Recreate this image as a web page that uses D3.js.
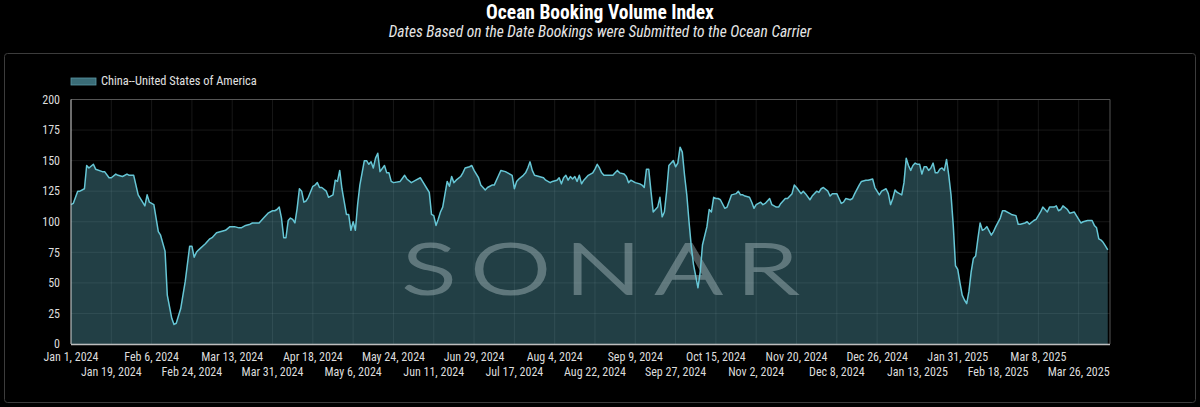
<!DOCTYPE html>
<html>
<head>
<meta charset="utf-8">
<script src="https://cdn.jsdelivr.net/npm/d3@7/dist/d3.min.js"></script>
<style>
  html, body { margin: 0; padding: 0; background: #000; }
  svg { display: block; }
  text { font-family: "Roboto Condensed", "Liberation Sans Narrow", Roboto, sans-serif; }
</style>
</head>
<body>
<div id="chart"></div>
<script>
// series: days after Jan 1, 2024 and index value
const seriesName = "China--United States of America";
const dayOffsets = [
  0, 1, 3, 4, 6, 7, 8, 10, 11, 14, 15, 17, 18, 20, 21, 23, 25, 26, 28, 30,
  33, 34, 35, 37, 38, 39, 40, 42, 43, 45, 46, 47, 49, 51, 53, 54, 55, 56, 57, 60,
  62, 63, 65, 67, 69, 71, 73, 75, 76, 78, 80, 81, 83, 84, 86, 88, 90, 91, 92, 93,
  94, 95, 96, 97, 98, 99, 100, 101, 102, 103, 104, 105, 106, 108, 109, 110, 111, 112, 114, 115,
  116, 117, 118, 119, 120, 121, 123, 124, 125, 126, 127, 128, 129, 131, 132, 133, 134, 135, 136, 137,
  138, 140, 141, 142, 143, 144, 147, 149, 150, 152, 154, 156, 157, 159, 160, 161, 162, 163, 164, 165,
  166, 168, 169, 170, 171, 172, 174, 175, 176, 178, 179, 180, 182, 183, 185, 186, 188, 189, 191, 192,
  194, 195, 197, 198, 199, 200, 202, 203, 204, 205, 206, 207, 209, 211, 212, 214, 215, 217, 218, 219,
  220, 221, 222, 223, 224, 225, 226, 227, 228, 229, 230, 231, 233, 234, 235, 236, 237, 238, 240, 242,
  243, 244, 245, 247, 248, 249, 250, 251, 252, 254, 255, 256, 257, 258, 259, 260, 261, 262, 263, 264,
  265, 266, 267, 268, 269, 270, 271, 272, 273, 274, 275, 276, 277, 278, 280, 281, 282, 284, 285, 286,
  287, 288, 289, 290, 292, 293, 294, 295, 297, 298, 299, 300, 301, 303, 304, 305, 306, 308, 309, 310,
  312, 313, 315, 316, 317, 319, 320, 322, 323, 324, 326, 327, 328, 330, 331, 333, 334, 335, 336, 338,
  339, 340, 342, 343, 344, 345, 346, 348, 349, 350, 352, 353, 355, 356, 358, 359, 361, 362, 364, 365,
  366, 367, 368, 369, 371, 372, 373, 374, 375, 376, 377, 378, 379, 380, 381, 382, 383, 384, 385, 386,
  387, 388, 389, 390, 391, 392, 393, 394, 395, 396, 397, 398, 399, 400, 401, 402, 403, 404, 405, 406,
  407, 408, 409, 411, 412, 413, 415, 416, 417, 419, 420, 422, 423, 424, 426, 427, 428, 430, 431, 433,
  434, 435, 436, 437, 439, 440, 441, 442, 443, 445, 446, 448, 449, 451, 452, 454, 456, 457, 458, 459,
  460, 461, 462, 463
];
const bookingIndex = [
  114, 115, 125, 125, 127, 146, 144, 147, 143, 141, 141, 136, 136, 139, 138, 137, 139, 138, 138, 122,
  113, 122, 116, 114, 103, 92, 89, 76, 40, 21, 16, 17, 29, 51, 80, 80, 71, 75, 77, 82,
  86, 87, 91, 92, 93, 96, 96, 95, 95, 97, 98, 99, 99, 99, 103, 107, 109, 109, 110, 112,
  103, 87, 87, 101, 103, 102, 99, 111, 127, 125, 116, 117, 120, 129, 130, 132, 128, 128, 125, 120,
  121, 122, 134, 133, 142, 127, 106, 106, 93, 100, 93, 114, 130, 150, 150, 147, 149, 144, 152, 156,
  141, 146, 140, 140, 133, 132, 133, 138, 135, 132, 134, 136, 133, 127, 124, 106, 105, 97, 102, 108,
  112, 133, 129, 137, 132, 134, 137, 140, 144, 145, 146, 142, 136, 130, 126, 128, 130, 130, 138, 142,
  141, 140, 138, 127, 133, 135, 138, 140, 144, 149, 142, 138, 137, 136, 134, 132, 133, 134, 136, 131,
  136, 138, 134, 137, 135, 137, 133, 138, 131, 134, 136, 138, 140, 143, 147, 144, 140, 138, 138, 138,
  140, 142, 140, 139, 137, 132, 134, 133, 132, 131, 130, 128, 143, 143, 125, 108, 110, 112, 120, 104,
  108, 125, 146, 148, 150, 145, 148, 161, 157, 138, 122, 100, 80, 65, 46, 59, 81, 96, 110, 108,
  120, 119, 119, 118, 111, 112, 117, 122, 123, 125, 122, 122, 121, 120, 116, 111, 114, 116, 114, 115,
  119, 114, 112, 112, 115, 119, 119, 123, 130, 128, 123, 125, 123, 118, 121, 125, 124, 127, 128, 125,
  121, 123, 123, 119, 115, 116, 119, 118, 119, 123, 130, 133, 134, 134, 135, 128, 122, 125, 127, 123,
  114, 119, 126, 124, 122, 132, 152, 146, 142, 146, 148, 147, 147, 139, 145, 145, 142, 144, 148, 140,
  140, 143, 144, 142, 151, 138, 122, 97, 64, 61, 50, 40, 36, 33, 43, 59, 70, 72, 86, 99,
  93, 94, 96, 89, 92, 96, 103, 109, 109, 107, 106, 105, 98, 98, 99, 100, 98, 101, 102, 108,
  112, 110, 108, 112, 112, 113, 109, 110, 113, 110, 107, 108, 105, 99, 100, 101, 101, 97, 95, 86,
  85, 83, 80, 77
];
const xTickDates = [
  "2024-01-01", "2024-01-19", "2024-02-06", "2024-02-24", "2024-03-13", "2024-03-31",
  "2024-04-18", "2024-05-06", "2024-05-24", "2024-06-11", "2024-06-29", "2024-07-17",
  "2024-08-04", "2024-08-22", "2024-09-09", "2024-09-27", "2024-10-15", "2024-11-02",
  "2024-11-20", "2024-12-08", "2024-12-26", "2025-01-13", "2025-01-31", "2025-02-18",
  "2025-03-08", "2025-03-26"
];
const yTicks = [0, 25, 50, 75, 100, 125, 150, 175, 200];

const W = 1200, H = 407;
const margin = { top: 99.5, right: 90, bottom: 63, left: 71 };

const startDate = new Date(2024, 0, 1);
const parseDay = d3.timeParse("%Y-%m-%d");
const fmt = d3.timeFormat("%b %-d, %Y");

const data = dayOffsets.map((d, i) => ({
  date: d3.timeDay.offset(startDate, d),
  value: bookingIndex[i]
}));

const svg = d3.select("#chart")
  .append("svg")
  .attr("width", W)
  .attr("height", H);

svg.append("rect")
  .attr("width", W)
  .attr("height", H)
  .attr("fill", "#000");

// titles
svg.append("text")
  .attr("x", W / 2)
  .attr("y", 19)
  .attr("text-anchor", "middle")
  .attr("fill", "#fff")
  .attr("font-size", 19.5)
  .attr("font-weight", "bold")
  .text("Ocean Booking Volume Index");

svg.append("text")
  .attr("x", W / 2)
  .attr("y", 37)
  .attr("text-anchor", "middle")
  .attr("fill", "#e6e6e6")
  .attr("font-size", 15.5)
  .attr("font-style", "italic")
  .text("Dates Based on the Date Bookings were Submitted to the Ocean Carrier");

// panel frame
svg.append("rect")
  .attr("x", 4.5)
  .attr("y", 53.5)
  .attr("width", 1191)
  .attr("height", 349)
  .attr("rx", 3)
  .attr("fill", "none")
  .attr("stroke", "#3c3c3c");

const x = d3.scaleTime()
  .domain([startDate, d3.timeDay.offset(startDate, 464)])
  .range([margin.left, 1110]);

const y = d3.scaleLinear()
  .domain([0, 200])
  .range([344, margin.top]);

const tickDates = xTickDates.map(parseDay);

// grid
const grid = svg.append("g").attr("class", "grid");

grid.selectAll("line.h")
  .data(yTicks)
  .enter()
  .append("line")
  .attr("class", "h")
  .attr("x1", x.range()[0])
  .attr("x2", x.range()[1])
  .attr("y1", d => y(d))
  .attr("y2", d => y(d))
  .attr("stroke", "#fff")
  .attr("stroke-opacity", 0.09);

grid.selectAll("line.v")
  .data(tickDates)
  .enter()
  .append("line")
  .attr("class", "v")
  .attr("x1", d => x(d))
  .attr("x2", d => x(d))
  .attr("y1", y(0))
  .attr("y2", y(200))
  .attr("stroke", "#fff")
  .attr("stroke-opacity", 0.09);

// area + line
const area = d3.area()
  .x(d => x(d.date))
  .y0(y(0))
  .y1(d => y(d.value));

const line = d3.line()
  .x(d => x(d.date))
  .y(d => y(d.value));

svg.append("path")
  .datum(data)
  .attr("d", area)
  .attr("fill", "#5fb0c0")
  .attr("fill-opacity", 0.36);

// watermark, stretched wide like the logo
svg.append("text")
  .attr("transform", "translate(402,294) scale(1.45,1)")
  .attr("textLength", 273)
  .attr("lengthAdjust", "spacing")
  .attr("font-size", 70)
  .attr("font-weight", 300)
  .style("font-family", "Lato, 'DejaVu Sans', sans-serif")
  .attr("fill", "#a7babd")
  .attr("stroke", "#a7babd")
  .attr("stroke-width", 2.2)
  .attr("opacity", 0.46)
  .text("SONAR");

svg.append("path")
  .datum(data)
  .attr("d", line)
  .attr("fill", "none")
  .attr("stroke", "#66c6d5")
  .attr("stroke-width", 1.5)
  .attr("stroke-linejoin", "round");

// plot frame: top and right
svg.append("path")
  .attr("d", `M${x.range()[0]},${y(200)}H${x.range()[1]}V${y(0)}`)
  .attr("fill", "none")
  .attr("stroke", "#555");

// axes lines
svg.append("line")
  .attr("x1", x.range()[0]).attr("x2", x.range()[0])
  .attr("y1", y(0)).attr("y2", y(200))
  .attr("stroke", "#cfcfcf");

svg.append("line")
  .attr("x1", x.range()[0]).attr("x2", x.range()[1])
  .attr("y1", y(0) + 0.5).attr("y2", y(0) + 0.5)
  .attr("stroke", "#bdbdbd")
  .attr("stroke-width", 1.5);

// y labels
svg.append("g")
  .selectAll("text")
  .data(yTicks)
  .enter()
  .append("text")
  .attr("x", 60)
  .attr("y", d => y(d))
  .attr("dy", "0.35em")
  .attr("text-anchor", "end")
  .attr("fill", "#dcdcdc")
  .attr("font-size", 12)
  .text(d => d);

// x labels, alternating rows
svg.append("g")
  .selectAll("text")
  .data(tickDates)
  .enter()
  .append("text")
  .attr("x", d => x(d))
  .attr("y", (d, i) => i % 2 === 0 ? 361 : 376)
  .attr("text-anchor", "middle")
  .attr("fill", "#dcdcdc")
  .attr("font-size", 12)
  .text(d => fmt(d));

// legend
const legend = svg.append("g").attr("transform", "translate(71,78)");
legend.append("rect")
  .attr("width", 25)
  .attr("height", 7)
  .attr("fill", "#3a6c77")
  .attr("stroke", "#5a98a5")
  .attr("stroke-width", 0.8);
legend.append("text")
  .attr("x", 30)
  .attr("y", 7)
  .attr("fill", "#e0e0e0")
  .attr("font-size", 12.4)
  .text(seriesName);
</script>
</body>
</html>
